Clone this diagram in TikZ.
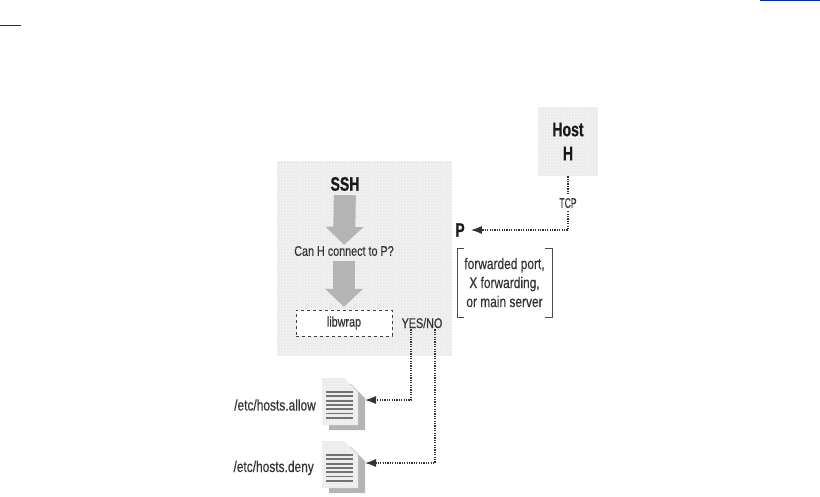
\documentclass[tikz,border=0pt]{standalone}
\usepackage{fontspec}
\usepackage{xcolor}
\usepackage{tikz}
\usetikzlibrary{arrows.meta, patterns, positioning}
\newfontfamily\labelfont[FakeStretch=0.77,FakeBold=0.4]{Liberation Sans}
\newfontfamily\titlefont[FakeStretch=0.72,FakeBold=0.8]{Liberation Sans}
\definecolor{boxgray}{HTML}{EBEBEB}
\definecolor{arrowgray}{HTML}{B4B4B4}
\definecolor{linkblue}{HTML}{003399}
\tikzset{
  stipple/.style={fill=boxgray, postaction={pattern=crosshatch dots, pattern color=white}},
  greybox/.style={stipple, inner sep=0pt},
  title/.style={font=\titlefont\bfseries\fontsize{19.5}{24}\selectfont, text=black!90, inner sep=1pt, align=center},
  plain/.style={font=\labelfont\fontsize{14}{19}\selectfont, text=black!80, inner sep=1pt, align=center},
  bigger/.style={font=\labelfont\fontsize{15.5}{19}\selectfont},
  dotline/.style={draw=black!80, line width=1.2pt, dash pattern=on 1.3pt off 1.1pt},
  tip/.style={-{Latex[length=11pt,width=8pt]}},
  bigarrow/.style={draw=arrowgray, line width=22pt, -{Triangle[length=18pt,width=37pt]}},
  pics/docicon/.style={code={
    \fill[arrowgray] (7,6) -- (29,6) -- (43,20) -- (43,52) -- (7,52) -- cycle;
    \path[stipple] (0,0) -- (22,0) -- (36,14) -- (36,47) -- (0,47) -- cycle;
    \foreach \l in {14,18.3,...,41}
      \draw[black!55, line width=1.8pt] (4,\l) -- (31,\l);
    \coordinate (-west) at (0,27);
    \coordinate (-port) at (43,22);
  }}
}
\begin{document}
\begin{tikzpicture}[x=1pt, y=-1pt]
    \useasboundingbox (0,0) rectangle (820,496);

    \fill[linkblue] (0,25) rectangle (21,26);
    \fill[linkblue] (760,0) rectangle (820,1);

    \node[greybox, minimum width=175pt, minimum height=195pt] (sshbox) at (364.5,258.5) {};
    \node[greybox, title, minimum width=60pt, minimum height=69pt] (host) at (568,141.5) {Host\\H};

    \node[title] (ssh) at (345,184) {SSH};
    \node[plain] (can) at (344,251) {Can H connect to P?};
    \node[plain, draw=black!75, dashed, fill=white, minimum width=96pt, minimum height=26pt] (libwrap) at (344,323) {libwrap};
    \node[plain] (yesno) at (422,323) {YES/NO};

    \node[plain, xscale=.8, inner ysep=3pt] (tcp) at (568,203) {TCP};
    \node[title, inner xsep=6pt] (p) at (460,230) {P};
    \node[plain, bigger, minimum width=95pt, minimum height=69pt] (ports) at (504.5,282.5) {forwarded port,\\X forwarding,\\or main server};

    \pic (allow) at (322,378) {docicon};
    \pic (deny) at (322,441) {docicon};
    \node[plain, bigger, left=5pt of allow-west] (allowtxt) {/etc/hosts.allow};
    \node[plain, bigger, left=7pt of deny-west] (denytxt) {/etc/hosts.deny};

    \draw[bigarrow, shorten <=3pt] (ssh) -- (can);
    \draw[bigarrow, shorten <=4pt, shorten >=3pt] (can) -- (libwrap);

    \draw[black!70] ([xshift=7pt]ports.north west) -- (ports.north west) -- (ports.south west) -- ([xshift=7pt]ports.south west);
    \draw[black!70] ([xshift=-7pt]ports.north east) -- (ports.north east) -- (ports.south east) -- ([xshift=-7pt]ports.south east);

    \path[dotline]
    (host) edge (tcp);
    \draw[dotline, tip] (tcp) |- (p);
    \draw[dotline, tip] ([xshift=-11pt]yesno.south) |- (allow-port);
    \draw[dotline, tip] ([xshift=13pt]yesno.south) |- (deny-port);
\end{tikzpicture}
\end{document}
